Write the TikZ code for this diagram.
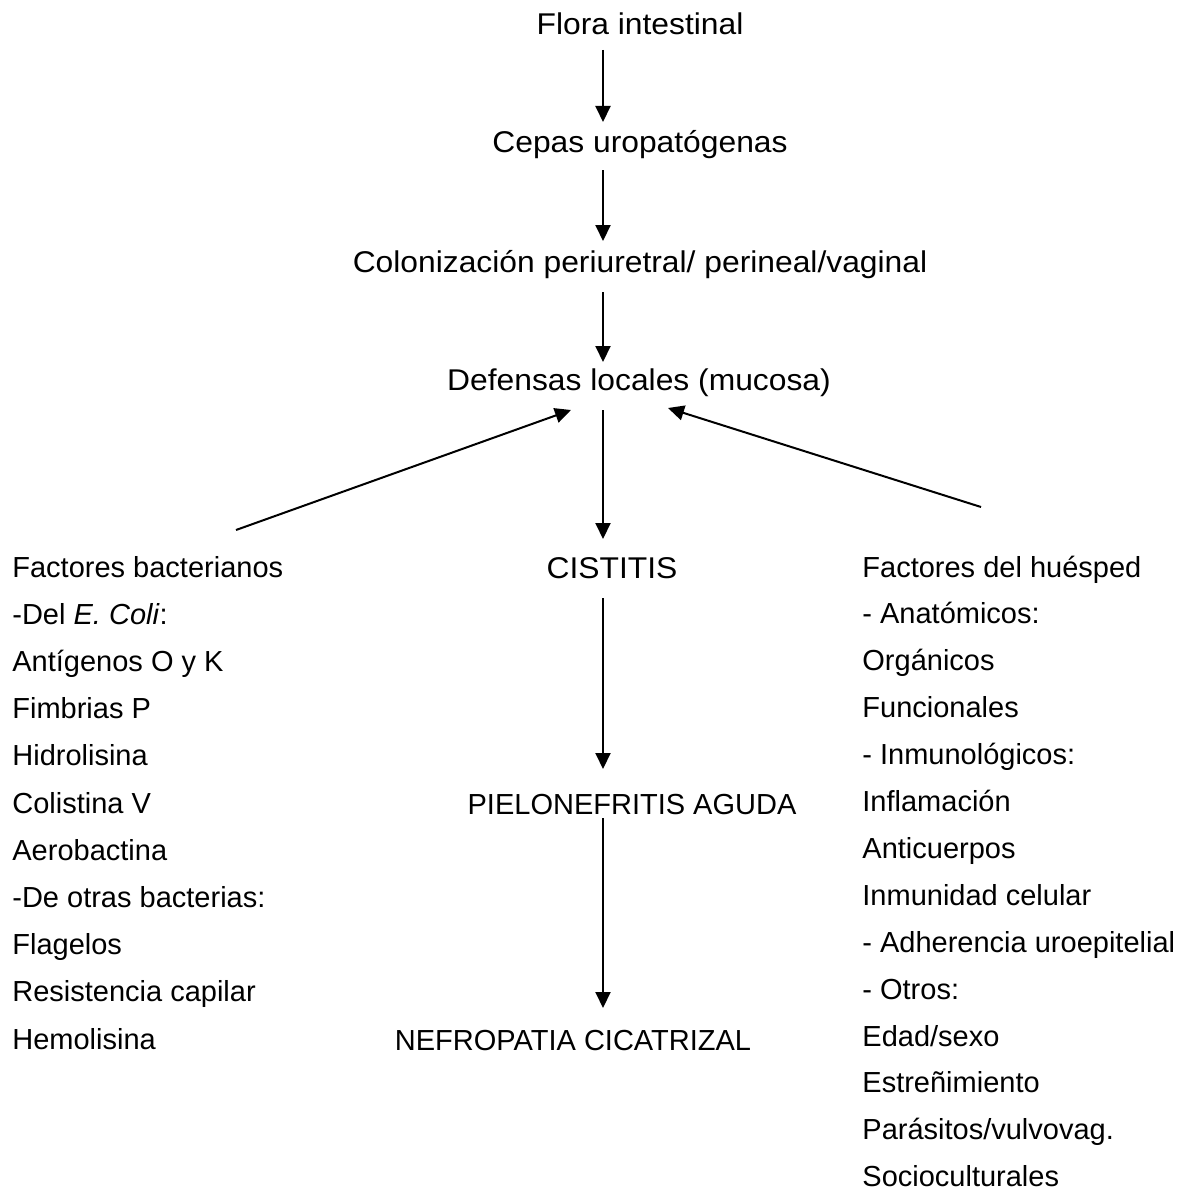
\documentclass[tikz,border=0pt]{standalone}
\usepackage{fontspec}
\setmainfont{Liberation Sans}
\newfontfamily\widefont[FakeStretch=1.06]{Liberation Sans}
\usetikzlibrary{arrows.meta,calc}
\begin{document}
\begin{tikzpicture}[x=0.5pt,y=-0.5pt,
  txt/.style={inner sep=0pt, font=\fontsize{14.5pt}{17pt}\selectfont},
  ctr/.style={txt, anchor=base},
  ctrw/.style={inner sep=0pt, anchor=base, font=\widefont\fontsize{15pt}{18pt}\selectfont},
  lft/.style={txt, anchor=base west},
  arr/.style={line width=1pt, -{Triangle[length=8pt,width=7.5pt]}},
  ln/.style={line width=1pt}]
\useasboundingbox (0,0) rectangle (1182,1193);
\coordinate (axis) at (603,0);
% central column
\node[ctrw] (flora) at (640,35) {Flora intestinal};
\node[ctrw] (cepas) at (640,153) {Cepas uropatógenas};
\node[ctrw] (colon) at (640,272) {Colonización periuretral/ perineal/vaginal};
\node[ctrw] (def) at (639,390) {Defensas locales (mucosa)};
\node[ctrw] (cist) at (612,578) {CISTITIS};
\node[ctr] (pielo) at (632,814) {PIELONEFRITIS AGUDA};
\node[ctr] (nefro) at (573,1050) {NEFROPATIA CICATRIZAL};
% left column
\foreach \t [count=\i from 0] in {Factores bacterianos,{-Del \textit{E. Coli}:},Antígenos O y K,Fimbrias P,Hidrolisina,Colistina V,Aerobactina,-De otras bacterias:,Flagelos,Resistencia capilar,Hemolisina}
  \node[lft] (fb\i) at (12,577+47.2*\i) {\t};
% right column
\foreach \t [count=\i from 0] in {Factores del huésped,- Anatómicos:,Orgánicos,Funcionales,- Inmunológicos:,Inflamación,Anticuerpos,Inmunidad celular,- Adherencia uroepitelial,- Otros:,Edad/sexo,Estreñimiento,Parásitos/vulvovag.,Socioculturales}
  \node[lft] (fh\i) at (862,577+46.9*\i) {\t};
% vertical arrows
\draw[arr] ($(flora.base -| axis)+(0,15)$) -- ($(cepas.base -| axis)+(0,-31)$);
\draw[arr] ($(cepas.base -| axis)+(0,17)$) -- ($(colon.base -| axis)+(0,-31)$);
\draw[arr] ($(colon.base -| axis)+(0,20)$) -- ($(def.base -| axis)+(0,-28)$);
\draw[arr] ($(def.base -| axis)+(0,20)$) -- ($(cist.base -| axis)+(0,-39)$);
\draw[arr] ($(cist.base -| axis)+(0,20)$) -- ($(pielo.base -| axis)+(0,-45)$);
\draw[arr] ($(pielo.base -| axis)+(0,4)$) -- ($(nefro.base -| axis)+(0,-42)$);
% diagonal arrows
\draw[arr] ($(fb0.base west)+(224,-47)$) -- ($(def.base)+(-68,20)$);
\draw[arr] ($(fh0.base west)+(119,-70)$) -- ($(def.base)+(29,18)$);
\end{tikzpicture}
\end{document}
